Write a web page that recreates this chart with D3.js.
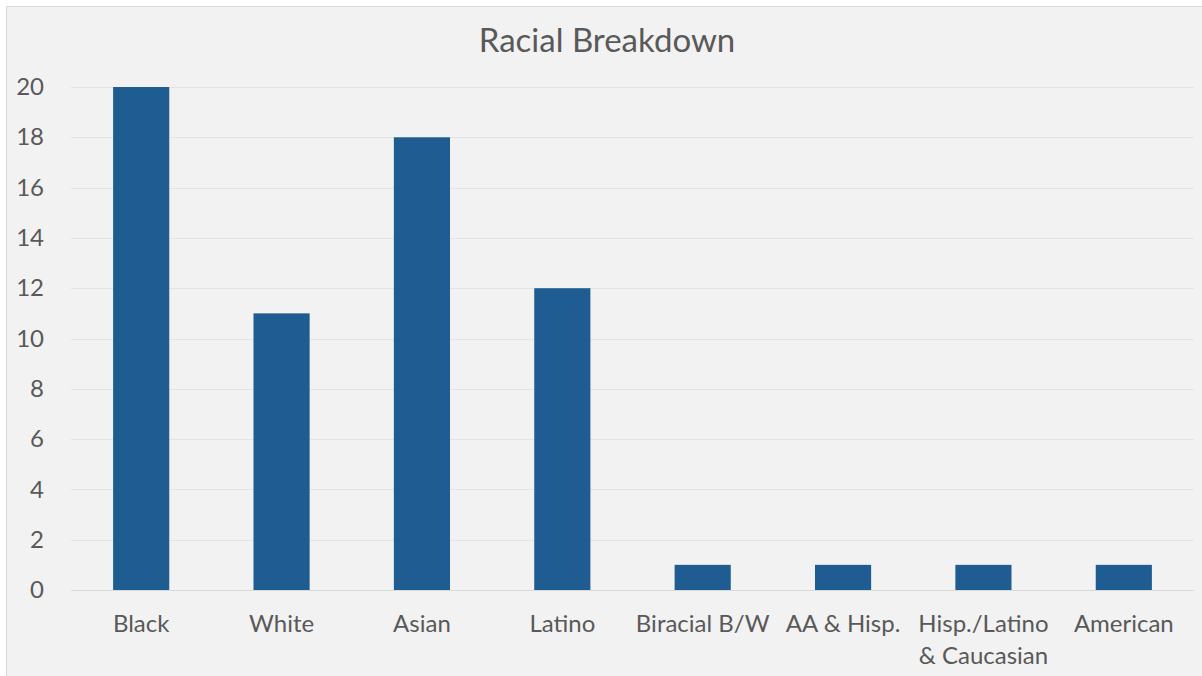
<!DOCTYPE html>
<html>
<head>
<meta charset="utf-8">
<script src="https://cdn.jsdelivr.net/npm/d3@7"></script>
<style>
  html, body { margin: 0; padding: 0; background: #ffffff; }
  svg { display: block; }
</style>
</head>
<body>
<svg id="chart" width="1202" height="676"></svg>
<script>
// Racial breakdown counts
const categories = ["Black", "White", "Asian", "Latino", "Biracial B/W", "AA & Hisp.", "Hisp./Latino\n& Caucasian", "American"];
const counts = [20, 11, 18, 12, 1, 1, 1, 1];
const yTicks = [0, 2, 4, 6, 8, 10, 12, 14, 16, 18, 20];
const title = "Racial Breakdown";

const W = 1202, H = 676;
const svg = d3.select("#chart");
const font = "Lato, 'Open Sans', sans-serif";
const textColor = "#595959";

// chart area background and frame
svg.append("rect")
  .attr("x", 6.5).attr("y", 6.5)
  .attr("width", W).attr("height", H)
  .attr("fill", "#f2f2f2")
  .attr("stroke", "#d9d9d9").attr("stroke-width", 1);

const plot = { left: 71, right: 1194, top: 87, bottom: 590 };

const x = d3.scaleBand()
  .domain(categories)
  .range([plot.left, plot.right])
  .paddingInner(0.6)
  .paddingOuter(0.3);

const y = d3.scaleLinear()
  .domain([0, 20])
  .range([plot.bottom, plot.top]);

// horizontal gridlines
svg.append("g")
  .selectAll("line")
  .data(yTicks.filter(d => d > 0))
  .join("line")
  .attr("x1", plot.left).attr("x2", plot.right)
  .attr("y1", d => Math.round(y(d)) + 0.5).attr("y2", d => Math.round(y(d)) + 0.5)
  .attr("stroke", "#e3e3e3").attr("stroke-width", 1);

// bars
svg.append("g")
  .selectAll("rect")
  .data(categories.map((c, i) => ({ c, v: counts[i] })))
  .join("rect")
  .attr("x", d => x(d.c))
  .attr("width", x.bandwidth())
  .attr("y", d => y(d.v))
  .attr("height", d => y(0) - y(d.v))
  .attr("fill", "#1f5c91");

// baseline
svg.append("line")
  .attr("x1", plot.left).attr("x2", plot.right)
  .attr("y1", Math.round(y(0)) + 0.5).attr("y2", Math.round(y(0)) + 0.5)
  .attr("stroke", "#d9d9d9").attr("stroke-width", 1);

// y axis labels
const yAxis = d3.axisLeft(y).tickValues(yTicks).tickSize(0).tickPadding(0);
const gy = svg.append("g").attr("transform", "translate(44,0)").call(yAxis);
gy.select(".domain").remove();
gy.selectAll("text")
  .attr("font-family", font).attr("font-size", 24)
  .attr("fill", textColor);

// x axis category labels (multi-line)
const xAxis = d3.axisBottom(x).tickSize(0).tickPadding(0).tickFormat("");
const gx = svg.append("g").attr("transform", `translate(0,${plot.bottom})`).call(xAxis);
gx.select(".domain").remove();
gx.selectAll(".tick").each(function(d) {
  const t = d3.select(this).append("text")
    .attr("text-anchor", "middle")
    .attr("font-family", font).attr("font-size", 24)
    .attr("fill", textColor)
    .attr("y", 42);
  d.split("\n").forEach((line, i) => {
    t.append("tspan").attr("x", 0).attr("dy", i === 0 ? 0 : 32).text(line);
  });
});

// title
svg.append("text")
  .attr("x", 607).attr("y", 52)
  .attr("text-anchor", "middle")
  .attr("font-family", font).attr("font-size", 33)
  .attr("fill", textColor)
  .text(title);
</script>
</body>
</html>
